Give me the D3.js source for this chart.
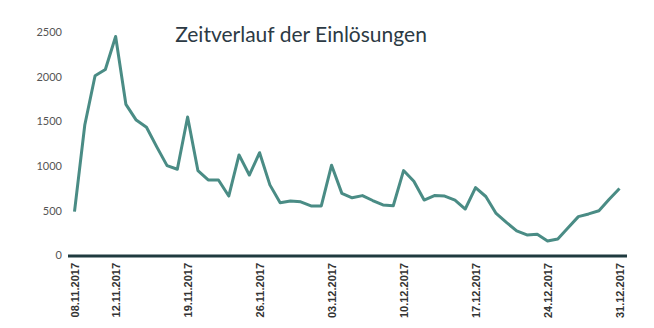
<!DOCTYPE html>
<html><head><meta charset="utf-8">
<script src="https://cdn.jsdelivr.net/npm/d3@7"></script>
<style>body{margin:0;background:#fff}svg{display:block}</style>
</head><body><svg id="c" width="654" height="328"></svg>
<script>
const startDate = "08.11.2017";
const values = [490,1460,2010,2080,2450,1690,1515,1435,1215,1005,965,1550,950,845,845,665,1125,900,1150,790,590,610,600,555,555,1010,695,645,670,615,565,557,950,830,620,670,665,620,520,760,660,470,370,275,230,237,162,185,310,435,465,500,630,750];
const yTicks = [0,500,1000,1500,2000,2500];
const xTickLabels = ["08.11.2017","12.11.2017","19.11.2017","26.11.2017","03.12.2017","10.12.2017","17.12.2017","24.12.2017","31.12.2017"];
const title = "Zeitverlauf der Einlösungen";

const parse = d3.timeParse("%d.%m.%Y");
const fmt = d3.timeFormat("%d.%m.%Y");
const t0 = parse(startDate);
const data = values.map((v,i)=>({date:d3.timeDay.offset(t0,i), v}));

const svg = d3.select("#c");
const x = d3.scaleTime().domain([data[0].date, data[data.length-1].date]).range([74.5,619.5]);
const y = d3.scaleLinear().domain([0,2500]).range([255.5,32]);

// y labels
svg.append("g").selectAll("text").data(yTicks).join("text")
  .attr("x",62).attr("y",d=>y(d)).attr("dy","0.35em")
  .attr("text-anchor","end")
  .attr("font-family","Lato, 'Open Sans', sans-serif").attr("font-size",11)
  .attr("fill","#555").text(d=>d);

// line
svg.append("path").datum(data)
  .attr("fill","none").attr("stroke","#4a8c85").attr("stroke-width",3)
  .attr("stroke-linejoin","round")
  .attr("d", d3.line().x(d=>x(d.date)).y(d=>y(d.v)));

// x axis
const xAxis = d3.axisBottom(x).tickValues(xTickLabels.map(parse)).tickFormat(fmt).tickSize(0).tickPadding(0);
const gx = svg.append("g").attr("transform","translate(0,256)").call(xAxis);
gx.select(".domain").remove();
gx.append("line").attr("x1",68).attr("x2",627).attr("y1",0).attr("y2",0)
  .attr("stroke","#1f3a3f").attr("stroke-width",3);
gx.selectAll(".tick text")
  .attr("transform","rotate(-90)")
  .attr("text-anchor","end")
  .attr("x",-7).attr("y",0).attr("dy","0.35em").attr("dx",0)
  .attr("font-family","'Liberation Sans', Arial, sans-serif").attr("font-weight","bold")
  .attr("font-size",11).attr("fill","#333");

svg.append("text").attr("x",301).attr("y",42).attr("text-anchor","middle")
  .attr("font-family","Lato, 'Open Sans', sans-serif").attr("font-size",21)
  .attr("fill","#2c3a44").text(title);
</script></body></html>
